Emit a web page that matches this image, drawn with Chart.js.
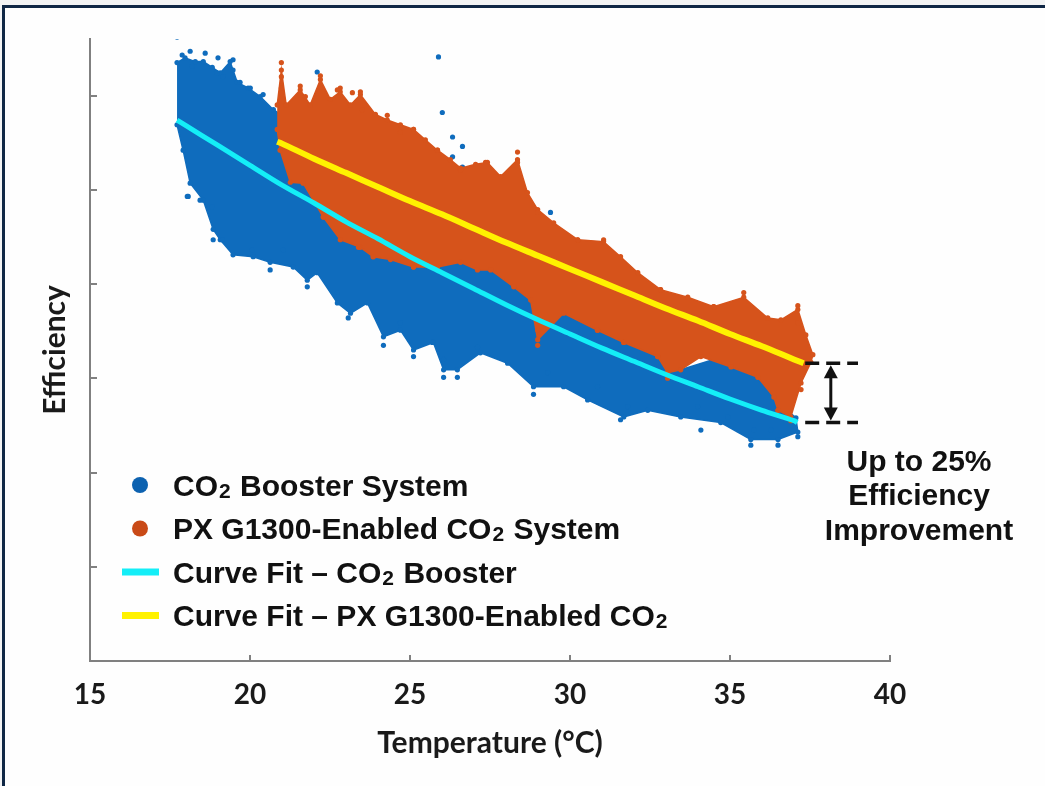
<!DOCTYPE html>
<html>
<head>
<meta charset="utf-8">
<title>Efficiency vs Temperature</title>
<script src="https://cdn.jsdelivr.net/npm/chart.js@4.4.1/dist/chart.umd.min.js"></script>
<style>
  html, body { margin: 0; padding: 0; background: #f2f3f4; overflow: hidden; }
  #frame { position: absolute; left: 2px; top: 5px; width: 1100px; height: 900px;
           border: 3px solid #0f2745; background: #fefefe; }
  #wrap { position: absolute; left: 0; top: 0; width: 1045px; height: 786px; }
</style>
</head>
<body>
<div id="frame"></div>
<div id="wrap"><canvas id="chart" width="1045" height="786"></canvas></div>
<script>
// axis ticks (y axis has tick marks only, no labels)
const xTicks = [15, 20, 25, 30, 35, 40];
const yTicks = [1, 2, 3, 4, 5, 6];

// curve fits
const boosterFitT = [17.72, 18, 19, 20, 21, 22, 23, 24, 25, 26, 27, 28, 29, 30, 31, 32, 33, 34, 35, 36, 37, 37.1];
const boosterFitE = [5.74, 5.68, 5.47, 5.26, 5.05, 4.86, 4.66, 4.48, 4.29, 4.12, 3.95, 3.78, 3.62, 3.47, 3.32, 3.18, 3.04, 2.91, 2.78, 2.66, 2.55, 2.53];
const pxFitT = [20.85, 21, 22, 23, 24, 25, 26, 27, 28, 29, 30, 31, 32, 33, 34, 35, 36, 37, 37.3];
const pxFitE = [5.51, 5.49, 5.33, 5.18, 5.03, 4.88, 4.74, 4.59, 4.44, 4.30, 4.16, 4.02, 3.88, 3.74, 3.61, 3.47, 3.34, 3.20, 3.16];

// outline of the dense CO2 booster point cloud (upper edge, then lower edge back)
const boosterCloudT = [17.72, 17.97, 18.29, 18.54, 18.82, 19.07, 19.38, 19.60, 19.94, 20.32, 20.73, 21.57, 22.51, 23.45, 24.70, 25.64, 26.58, 27.20, 28.24, 29.30, 29.92, 30.33, 31.36, 32.21, 32.83, 33.05, 33.46, 34.49, 35.34, 35.75, 36.28, 36.59, 37.06,
  37.12, 36.50, 35.65, 34.71, 33.46, 32.43, 31.68, 30.55, 29.80, 28.86, 28.05, 27.20, 26.48, 26.05, 25.73, 25.11, 24.70, 24.17, 23.67, 23.14, 22.73, 22.10, 21.79, 21.35, 20.63, 20.10, 19.47, 19.07, 18.85, 18.54, 18.13, 17.91, 17.72];
const boosterCloudE = [6.35, 6.40, 6.36, 6.36, 6.30, 6.24, 6.36, 6.14, 6.08, 5.99, 5.85, 5.66, 5.48, 5.27, 5.05, 4.89, 4.63, 4.24, 4.12, 3.97, 3.83, 3.73, 3.69, 3.65, 3.51, 3.23, 3.09, 3.20, 3.27, 3.09, 2.88, 2.72, 2.58,
  2.43, 2.35, 2.35, 2.53, 2.59, 2.66, 2.59, 2.77, 2.91, 2.91, 3.16, 3.27, 3.09, 3.09, 3.38, 3.30, 3.51, 3.44, 3.80, 3.69, 3.80, 4.12, 4.04, 4.18, 4.23, 4.29, 4.31, 4.47, 4.58, 4.89, 5.07, 5.42, 5.69];

// outline of the PX G1300 point cloud
const pxCloudT = [20.85, 20.98, 21.13, 21.57, 21.88, 22.20, 22.51, 22.82, 23.14, 23.45, 23.92, 24.29, 24.70, 25.11, 25.48, 25.86, 26.26, 26.58, 27.05, 27.42, 27.83, 28.36, 28.67, 28.99, 29.49, 30.24, 31.05, 31.58, 32.12, 32.83, 33.68, 34.49, 35.43, 36.18, 36.59, 37.12, 37.37, 37.59,
  37.53, 37.22, 36.90, 36.50, 36.37, 35.87, 35.03, 34.09, 33.46, 33.05, 32.74, 31.68, 30.86, 29.80, 28.99, 28.77, 28.24, 27.52, 27.11, 26.58, 25.86, 25.11, 24.39, 23.85, 23.45, 22.82, 22.29, 21.66, 21.26, 20.94, 20.85];
const pxCloudE = [5.90, 6.27, 5.90, 6.06, 5.90, 6.17, 5.96, 6.04, 5.90, 6.01, 5.80, 5.74, 5.69, 5.64, 5.53, 5.42, 5.32, 5.23, 5.27, 5.29, 5.14, 5.32, 4.97, 4.79, 4.65, 4.47, 4.45, 4.29, 4.12, 3.94, 3.86, 3.76, 3.86, 3.64, 3.62, 3.73, 3.46, 3.25,
  3.17, 2.95, 2.59, 2.66, 2.80, 3.01, 3.12, 3.23, 3.09, 3.06, 3.23, 3.38, 3.51, 3.69, 3.41, 3.83, 3.97, 4.15, 4.15, 4.23, 4.18, 4.18, 4.26, 4.29, 4.39, 4.47, 4.71, 5.07, 5.08, 5.42, 5.64];

// stray points around the dense clouds
const boosterDotsT = [17.72, 17.88, 18.13, 18.60, 19.00, 19.47, 22.10, 25.89, 26.01, 26.33, 26.64, 26.33, 26.64, 29.39, 18.07, 18.85, 20.63, 21.79, 23.07, 24.17, 25.11, 26.05, 26.48, 28.86, 31.58, 34.09, 35.65, 36.50, 37.12,
  18.04, 18.44, 18.82, 19.13, 20.07, 21.04, 22.73, 24.70, 25.70, 26.05, 27.11, 29.30, 30.86, 31.80, 33.99, 34.93, 35.75, 36.28,
  18.19, 18.97, 19.16, 19.69, 20.01, 20.41, 19.47];
const boosterDotsE = [6.62, 6.43, 6.47, 6.45, 6.40, 6.38, 6.25, 6.41, 5.82, 5.56, 5.46, 5.35, 5.24, 4.76, 4.93, 4.47, 4.15, 3.97, 3.64, 3.35, 3.23, 3.01, 3.01, 2.83, 2.56, 2.45, 2.29, 2.29, 2.38,
  4.93, 4.89, 4.82, 4.47, 4.36, 4.36, 3.91, 3.59, 3.38, 3.20, 3.33, 3.06, 2.91, 2.70, 2.70, 2.59, 2.45, 2.45,
  6.31, 6.24, 6.20, 6.14, 6.08, 6.01, 6.27];
const pxDotsT = [20.98, 21.57, 22.20, 22.82, 23.45, 24.29, 28.36, 35.43, 37.12, 36.90, 28.99, 33.05, 37.22,
  20.98, 20.98, 21.73, 22.20, 22.73, 23.20, 23.51, 24.70, 25.11, 25.86, 26.58, 27.36, 28.36, 28.99, 30.24, 31.05, 32.83, 34.49, 37.12,
  28.99, 30.86, 31.68, 32.74, 36.50, 22.29, 23.39, 23.85, 25.11];
const pxDotsE = [6.35, 6.10, 6.21, 6.08, 6.04, 5.79, 5.40, 3.91, 3.77, 2.55, 3.35, 3.00, 2.88,
  6.20, 6.08, 5.99, 6.09, 6.06, 6.03, 5.85, 5.61, 5.64, 5.42, 5.21, 5.29, 5.29, 4.76, 4.47, 4.47, 3.94, 3.76, 3.59,
  3.51, 3.51, 3.38, 3.23, 2.66, 4.71, 4.39, 4.29, 4.18];

// the gap marker at the right end of the fits
const gapFrom = 37.35, gapTo = 39.0, gapArrowAt = 38.15;
const gapText = ['Up to 25%', 'Efficiency', 'Improvement'];

const BLUE = '#0f6cbd', ORANGE = '#d6531b', CYAN = '#14eef7', YELLOW = '#fff200';
const LEGEND_FONT = '"Liberation Sans", Arial, sans-serif';
const AXIS_FONT = 'Lato, "Open Sans", sans-serif';

function pts(xs, ys) {
  return xs.map((x, i) => ({ x: x, y: ys[i] }));
}

// CO2 written with a small 2, as on the original
function drawRich(ctx, text, x, y, size) {
  const parts = text.split('\u2082');
  parts.forEach(function (p, i) {
    ctx.font = 'bold ' + size + 'px ' + LEGEND_FONT;
    ctx.fillText(p, x, y);
    x += ctx.measureText(p).width;
    if (i < parts.length - 1) {
      ctx.font = 'bold ' + Math.round(size * 0.7) + 'px ' + LEGEND_FONT;
      ctx.fillText('2', x + 1, y + 2);
      x += ctx.measureText('2').width + 2;
    }
  });
}

const innerTicks = {
  id: 'innerTicks',
  afterDraw(chart) {
    const { ctx, scales: { x, y } } = chart;
    ctx.save();
    ctx.strokeStyle = '#808080';
    ctx.lineWidth = 2;
    yTicks.forEach(function (v) {
      const py = Math.round(y.getPixelForValue(v));
      ctx.beginPath(); ctx.moveTo(x.left, py); ctx.lineTo(x.left + 7, py); ctx.stroke();
    });
    xTicks.slice(1).forEach(function (t) {
      const px = Math.round(x.getPixelForValue(t));
      ctx.beginPath(); ctx.moveTo(px, y.bottom); ctx.lineTo(px, y.bottom - 6); ctx.stroke();
    });
    ctx.restore();
  }
};

const legendBox = {
  id: 'legendBox',
  afterDraw(chart) {
    const { ctx, chartArea } = chart;
    const rows = [4, 2, 1, 0]; // dataset indexes in legend order
    ctx.save();
    ctx.textBaseline = 'alphabetic';
    rows.forEach(function (di, r) {
      const ds = chart.data.datasets[di];
      const cy = chartArea.bottom - 176 + r * 43.5;
      if (ds.showLine) {
        ctx.fillStyle = ds.borderColor;
        ctx.fillRect(chartArea.left + 32, cy - 3.5, 37, 7);
      } else {
        ctx.fillStyle = ds.legendColor;
        ctx.beginPath(); ctx.arc(chartArea.left + 50, cy, 8, 0, Math.PI * 2); ctx.fill();
      }
      ctx.fillStyle = '#111';
      drawRich(ctx, ds.label, chartArea.left + 83, cy + 10.5, 30);
    });
    ctx.restore();
  }
};

const gapNote = {
  id: 'gapNote',
  afterDatasetsDraw(chart) {
    const { ctx, scales: { x, y } } = chart;
    const yTop = y.getPixelForValue(pxFitE[pxFitE.length - 1]);
    const yBot = y.getPixelForValue(boosterFitE[boosterFitE.length - 1]);
    const x0 = x.getPixelForValue(gapFrom), x1 = x.getPixelForValue(gapTo);
    const xa = x.getPixelForValue(gapArrowAt);
    ctx.save();
    ctx.strokeStyle = '#111';
    ctx.fillStyle = '#111';
    ctx.lineWidth = 3.5;
    ctx.setLineDash([14, 7]);
    [yTop, yBot].forEach(function (py) {
      ctx.beginPath(); ctx.moveTo(x0, py); ctx.lineTo(x1, py); ctx.stroke();
    });
    ctx.setLineDash([]);
    ctx.lineWidth = 3;
    ctx.beginPath(); ctx.moveTo(xa, yTop + 12); ctx.lineTo(xa, yBot - 12); ctx.stroke();
    ctx.beginPath(); ctx.moveTo(xa, yTop + 2); ctx.lineTo(xa - 7, yTop + 15); ctx.lineTo(xa + 7, yTop + 15); ctx.closePath(); ctx.fill();
    ctx.beginPath(); ctx.moveTo(xa, yBot - 2); ctx.lineTo(xa - 7, yBot - 15); ctx.lineTo(xa + 7, yBot - 15); ctx.closePath(); ctx.fill();
    ctx.font = 'bold 30px ' + LEGEND_FONT;
    ctx.textAlign = 'center';
    ctx.textBaseline = 'middle';
    gapText.forEach(function (line, i) {
      ctx.fillText(line, x1 + 61, yBot + 40 + i * 34.5);
    });
    ctx.restore();
  }
};

new Chart(document.getElementById('chart'), {
  type: 'scatter',
  data: {
    datasets: [
      { label: 'Curve Fit \u2013 PX G1300-Enabled CO\u2082', data: pts(pxFitT, pxFitE), showLine: true,
        borderColor: YELLOW, borderWidth: 6, pointRadius: 0, tension: 0.3, order: 0 },
      { label: 'Curve Fit \u2013 CO\u2082 Booster', data: pts(boosterFitT, boosterFitE), showLine: true,
        borderColor: CYAN, borderWidth: 5, pointRadius: 0, tension: 0.3, order: 1 },
      { label: 'PX G1300-Enabled CO\u2082 System', data: pts(pxDotsT, pxDotsE), legendColor: '#c94a17',
        backgroundColor: ORANGE, pointRadius: 2.6, borderWidth: 0, order: 2 },
      { label: 'PX cloud', data: pts(pxCloudT, pxCloudE), showLine: true, fill: 'shape',
        backgroundColor: ORANGE, borderColor: ORANGE, borderWidth: 1.5, pointRadius: 2.6,
        pointBorderWidth: 0, pointBackgroundColor: ORANGE, order: 3 },
      { label: 'CO\u2082 Booster System', data: pts(boosterDotsT, boosterDotsE), legendColor: '#0d62b0',
        backgroundColor: BLUE, pointRadius: 2.6, borderWidth: 0, order: 4 },
      { label: 'Booster cloud', data: pts(boosterCloudT, boosterCloudE), showLine: true, fill: 'shape',
        backgroundColor: BLUE, borderColor: BLUE, borderWidth: 1.5, pointRadius: 2.6,
        pointBorderWidth: 0, pointBackgroundColor: BLUE, order: 5 }
    ]
  },
  options: {
    responsive: false,
    animation: false,
    events: [],
    layout: { padding: { left: 33, top: 39, right: 155, bottom: 0 } },
    plugins: {
      legend: { display: false },
      tooltip: { enabled: false }
    },
    scales: {
      x: {
        type: 'linear', min: 15, max: 40,
        afterBuildTicks: function (s) { s.ticks = xTicks.map(function (v) { return { value: v }; }); },
        afterFit: function (s) { s.height = 125; },
        grid: { display: false, drawTicks: false },
        border: { display: true, color: '#808080', width: 2 },
        ticks: { padding: 17, color: '#1a1a1a', font: { family: AXIS_FONT, weight: 'bold', size: 28 } },
        title: { display: true, text: 'Temperature (\u00b0C)', color: '#1a1a1a', padding: { top: 4, bottom: 25 },
                 font: { family: AXIS_FONT, weight: 'bold', size: 30 } }
      },
      y: {
        type: 'linear', min: 0, max: 6.6,
        afterFit: function (s) { s.width = 57; },
        grid: { display: false, drawTicks: false },
        border: { display: true, color: '#808080', width: 2 },
        ticks: { display: false },
        title: { display: true, text: 'Efficiency', color: '#1a1a1a', padding: { top: 4, bottom: 4 },
                 font: { family: AXIS_FONT, weight: 'bold', size: 30 } }
      }
    }
  },
  plugins: [innerTicks, gapNote, legendBox]
});
</script>
</body>
</html>
